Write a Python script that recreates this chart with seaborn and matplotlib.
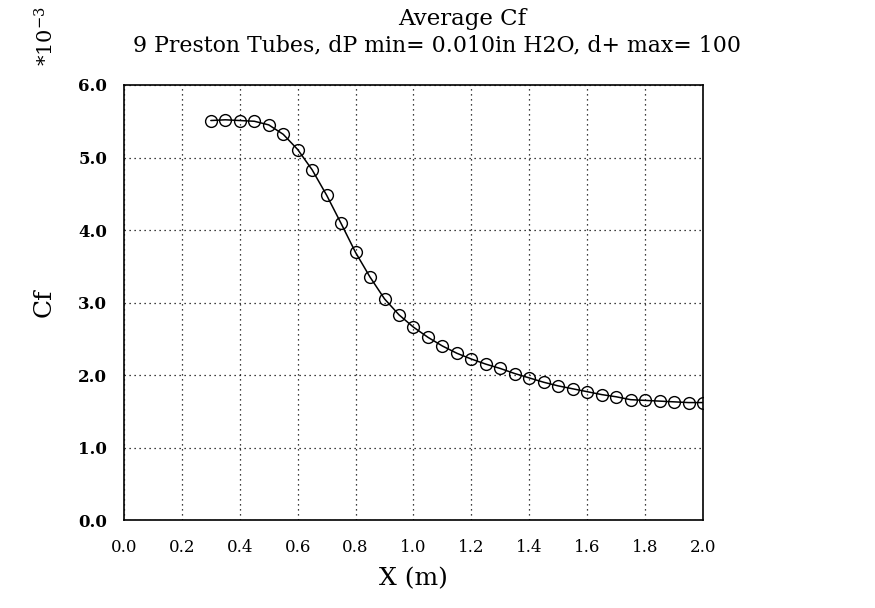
import numpy as np
import pandas as pd
import matplotlib
matplotlib.use("Agg")
import matplotlib.pyplot as plt
import seaborn as sns

# Cf (x 10^-3), one point every 0.05 m
x_m = [0.30, 0.35, 0.40, 0.45, 0.50, 0.55, 0.60, 0.65, 0.70, 0.75,
       0.80, 0.85, 0.90, 0.95, 1.00, 1.05, 1.10, 1.15, 1.20, 1.25,
       1.30, 1.35, 1.40, 1.45, 1.50, 1.55, 1.60, 1.65, 1.70, 1.75,
       1.80, 1.85, 1.90, 1.95, 2.00]
cf = [5.51, 5.52, 5.51, 5.50, 5.45, 5.32, 5.11, 4.83, 4.48, 4.09,
      3.69, 3.35, 3.05, 2.83, 2.66, 2.52, 2.40, 2.30, 2.22, 2.15,
      2.09, 2.02, 1.96, 1.90, 1.85, 1.81, 1.77, 1.73, 1.70, 1.66,
      1.65, 1.64, 1.63, 1.62, 1.62]

x_ticks = [0.0, 0.2, 0.4, 0.6, 0.8, 1.0, 1.2, 1.4, 1.6, 1.8, 2.0]
y_ticks = [0.0, 1.0, 2.0, 3.0, 4.0, 5.0, 6.0]

df = pd.DataFrame({"x": x_m, "cf": cf})

sns.set_style("white")
plt.rcParams["font.family"] = ["DejaVu Serif"]
plt.rcParams["text.color"] = "black"
plt.rcParams["axes.labelcolor"] = "black"
plt.rcParams["xtick.color"] = "black"
plt.rcParams["ytick.color"] = "black"

fig = plt.figure(figsize=(8.75, 6.08), dpi=100)
ax = fig.add_axes([0.1417, 0.1447, 0.6617, 0.7155])

sns.lineplot(data=df, x="x", y="cf", ax=ax, color="black", linewidth=1.1,
             marker="o", markersize=8.5, markerfacecolor="none",
             markeredgecolor="black", markeredgewidth=1.0)

ax.set_xlim(0, 2.0)
ax.set_ylim(0, 6.0)
ax.set_xticks(x_ticks)
ax.set_yticks(y_ticks)
ax.set_xticklabels([f"{v:.1f}" for v in x_ticks], fontsize=12)
ax.set_yticklabels([f"{v:.1f}" for v in y_ticks], fontsize=12, fontweight="bold")
ax.tick_params(axis="both", length=0, pad=12)
ax.tick_params(axis="x", pad=14)
ax.grid(True, linestyle=(0, (1, 3)), color="black", linewidth=0.9)
for s in ax.spines.values():
    s.set_color("black")
    s.set_linewidth(1.2)

ax.set_xlabel("X (m)", fontsize=18, labelpad=8)
ax.set_ylabel("Cf", fontsize=18, labelpad=16)

fig.text(0.528, 0.968, "Average Cf", fontsize=16.5, ha="center", va="center")
fig.text(0.499, 0.925, "9 Preston Tubes, dP min= 0.010in H2O, d+ max= 100",
         fontsize=15.8, ha="center", va="center")
fig.text(0.052, 0.94, r"$\mathregular{*10^{\minus 3}}$", fontsize=15, rotation=90,
         ha="center", va="center")

fig.savefig("out.png", dpi=100)
